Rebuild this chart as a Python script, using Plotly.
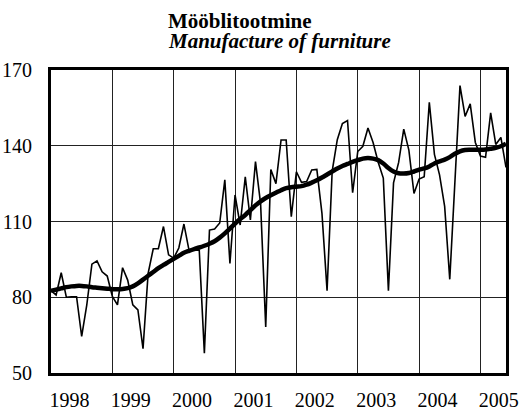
import plotly.graph_objects as go

# monthly index, Jan 1998 - Jun 2005
production = [82.6, 80.9, 89.7, 80.0, 80.2, 80.2, 64.5, 77.0, 93.1, 94.4, 90.1, 88.4,
              80.3, 77.0, 91.7, 86.8, 77.0, 75.0, 59.6, 89.5, 99.2, 99.2, 108.0, 96.8,
              95.5, 99.5, 109.0, 98.6, 98.6, 98.6, 57.8, 106.6, 107.0, 109.4, 126.5, 93.4,
              120.5, 108.6, 127.7, 110.6, 133.7, 117.0, 68.2, 130.6, 125.0, 142.3, 142.3, 111.9,
              129.7, 125.5, 125.8, 130.4, 130.6, 113.2, 82.6, 130.0, 142.4, 148.8, 150.0, 121.4,
              137.7, 139.8, 147.0, 141.3, 133.5, 127.2, 82.6, 125.3, 133.4, 146.6, 138.3, 121.1,
              126.8, 127.7, 157.2, 136.6, 128.5, 116.0, 87.1, 125.5, 163.8, 151.6, 156.6, 141.3,
              135.9, 135.4, 153.0, 140.5, 143.3, 131.4]

trend = [82.5, 83.0, 83.5, 84.0, 84.3, 84.5, 84.5, 84.3, 84.0, 83.8, 83.6, 83.4,
         83.2, 83.2, 83.3, 83.6, 84.3, 85.5, 87.0, 88.5, 90.0, 91.5, 92.8, 94.0,
         95.2, 96.4, 97.6, 98.4, 99.1, 99.7, 100.4, 101.2, 102.2, 103.6, 105.3, 107.2,
         109.2, 111.0, 112.6, 114.5, 116.4, 118.0, 119.3, 120.4, 121.4, 122.4, 123.2, 123.6,
         123.8, 124.0, 124.6, 125.4, 126.3, 127.4, 128.6, 129.8, 131.0, 132.0, 132.8, 133.6,
         134.3, 134.9, 135.1, 134.9, 134.3, 133.0, 131.2, 129.8, 129.1, 129.0, 129.2, 129.8,
         130.5, 131.0, 131.8, 133.0, 133.8, 134.5, 135.5, 136.8, 137.8, 138.3, 138.4, 138.4,
         138.4, 138.5, 138.8, 139.2, 139.8, 140.8]

years = ["1998", "1999", "2000", "2001", "2002", "2003", "2004", "2005"]

x = list(range(len(production)))
font = "Liberation Serif"

fig = go.Figure()
fig.add_trace(go.Scatter(x=x, y=production, mode="lines",
                         line=dict(color="black", width=1.6), showlegend=False))
fig.add_trace(go.Scatter(x=x, y=trend, mode="lines",
                         line=dict(color="black", width=4.5, shape="spline"), showlegend=False))

fig.update_layout(
    width=521, height=410,
    margin=dict(l=51, r=15, t=70, b=37),
    paper_bgcolor="white", plot_bgcolor="white",
    font=dict(family=font, size=20, color="black"),
    annotations=[
        dict(text="<b>Mööblitootmine</b>", xref="paper", yref="paper",
             x=0.2527, y=1.0, yshift=49, xanchor="left", yanchor="middle",
             showarrow=False, font=dict(family=font, size=21)),
        dict(text="<b><i>Manufacture of furniture</i></b>", xref="paper", yref="paper",
             x=0.2527, y=1.0, yshift=29, xanchor="left", yanchor="middle",
             showarrow=False, font=dict(family=font, size=21)),
    ],
)

fig.update_xaxes(
    range=[0, len(production) - 1], automargin=False,
    tickvals=[3.6 + 12 * k for k in range(len(years))], ticktext=years,
    showgrid=False, ticks="", ticklabelstandoff=7,
    tickfont=dict(family=font, size=20),
    minor=dict(tick0=0, dtick=12, showgrid=True, gridcolor="#222", gridwidth=1),
    showline=True, linecolor="black", linewidth=3, mirror=True, zeroline=False,
)
fig.update_yaxes(
    range=[50, 170], tickvals=[50, 80, 110, 140, 170], automargin=False,
    showgrid=True, gridcolor="#222", gridwidth=1, ticks="", ticklabelstandoff=12,
    tickfont=dict(family=font, size=20),
    showline=True, linecolor="black", linewidth=3, mirror=True, zeroline=False,
)

# page body has a default 8px margin; remove it so the figure sits at the corner
fig.write_html("out.html", config={"displayModeBar": False},
               post_script="document.body.style.margin='0';")
